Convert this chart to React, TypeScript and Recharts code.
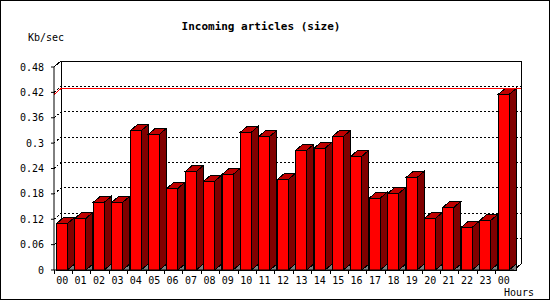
import { BarChart, Bar, XAxis, YAxis, CartesianGrid, ReferenceLine } from 'recharts';

const hours = ['00', '01', '02', '03', '04', '05', '06', '07', '08', '09', '10', '11', '12', '13', '14', '15', '16', '17', '18', '19', '20', '21', '22', '23', '00'];
const kbPerSec = [0.11, 0.122, 0.16, 0.16, 0.329, 0.321, 0.193, 0.233, 0.21, 0.226, 0.326, 0.316, 0.214, 0.283, 0.288, 0.316, 0.269, 0.17, 0.181, 0.219, 0.122, 0.148, 0.101, 0.117, 0.415];
const yTicks = [0, 0.06, 0.12, 0.18, 0.24, 0.3, 0.36, 0.42, 0.48];

const data = hours.map((hour, i) => ({ hour, size: kbPerSec[i] }));
const maxSize = Math.max(...kbPerSec);

const FONT = '"DejaVu Sans Mono", monospace';
// 3d depth offsets
const DX = 7;
const DY = 6;
const FRONT = 11;

function Bar3D(props: any) {
  const { x, y, width, height } = props;
  const fx = x + width / 2 - 6.5;
  const bottom = y + height;
  const rx = fx + FRONT;
  return (
    <g stroke="#000" strokeWidth={1} shapeRendering="crispEdges">
      <polygon
        points={`${rx},${bottom} ${rx + DX},${bottom - DY} ${rx + DX},${bottom}`}
        fill="#808080"
      />
      <polygon
        points={`${rx},${y} ${rx + DX},${y - DY} ${rx + DX},${bottom - DY} ${rx},${bottom}`}
        fill="#800000"
      />
      <polygon
        points={`${fx},${y} ${fx + DX},${y - DY} ${rx + DX},${y - DY} ${rx},${y}`}
        fill="#c00000"
      />
      <rect x={fx} y={y} width={FRONT} height={height} fill="#ff0000" />
    </g>
  );
}

function gridLine(p: any) {
  const { x1, y1, x2 } = p;
  const top = p.y ?? 67;
  const h = p.height ?? 203;
  const bottom = top + h;
  if (Math.abs(y1 - top) < 0.5) {
    return (
      <g fill="none" stroke="#000" shapeRendering="crispEdges">
        <path d={`M${x1},${y1} L${x1 + DX},${y1 - DY} L${x2 + DX},${y1 - DY} L${x2 + DX},${bottom - DY} L${x2},${bottom}`} />
        <line x1={x1 + DX} y1={y1 - DY} x2={x1 + DX} y2={bottom - DY} />
      </g>
    );
  }
  if (Math.abs(y1 - bottom) < 0.5) return <g />;
  return (
    <path
      d={`M${x1},${y1} L${x1 + DX},${y1 - DY} L${x2 + DX},${y1 - DY}`}
      fill="none"
      stroke="#000"
      strokeDasharray="2 2"
      shapeRendering="crispEdges"
    />
  );
}

function maxLine(p: any) {
  const { x1, y1, x2 } = p;
  return (
    <path
      d={`M${x1},${y1} L${x1 + DX},${y1 - DY} L${x2 + DX},${y1 - DY}`}
      fill="none"
      stroke="#ff0000"
      shapeRendering="crispEdges"
    />
  );
}

function HourTick(props: any) {
  const { x, y, payload, width, visibleTicksCount } = props;
  const half = payload?.offset || (width && visibleTicksCount ? width / visibleTicksCount / 2 : 9.2);
  const left = x - half;
  return (
    <g>
      <line x1={left} y1={y} x2={left} y2={y + 4} stroke="#000" shapeRendering="crispEdges" />
      <text x={x - 1} y={y + 14} textAnchor="middle" fontFamily={FONT} fontSize={10} fill="#000">
        {payload.value}
      </text>
    </g>
  );
}

export default function App() {
  return (
    <div style={{ position: 'absolute', left: 0, top: 0, width: 550, height: 300, background: '#fff' }}>
      <BarChart
        width={550}
        height={300}
        data={data}
        margin={{ top: 67, right: 36, bottom: 0, left: 0 }}
        barCategoryGap={0}
      >
        <CartesianGrid horizontal={gridLine} vertical={false} />
        <XAxis
          dataKey="hour"
          height={30}
          interval={0}
          tickLine={false}
          tickSize={0}
          tickMargin={0}
          axisLine={{ stroke: '#000' }}
          tick={<HourTick />}
        />
        <YAxis
          width={54}
          domain={[0, 0.48]}
          ticks={yTicks}
          tickSize={3}
          tickMargin={7}
          axisLine={{ stroke: '#000' }}
          tickLine={{ stroke: '#000' }}
          tick={{ fill: '#000', fontSize: 10, fontFamily: FONT }}
          tickFormatter={(v: number) => String(v)}
        />
        <Bar dataKey="size" shape={Bar3D} isAnimationActive={false} />
        <ReferenceLine y={maxSize} shape={maxLine} />
      </BarChart>
      <svg
        width={550}
        height={300}
        style={{ position: 'absolute', left: 0, top: 0, pointerEvents: 'none' }}
      >
        <rect x={0.5} y={0.5} width={549} height={299} fill="none" stroke="#000" />
        <text x={261} y={30} textAnchor="middle" fontFamily={FONT} fontWeight="bold" fontSize={11} fill="#000">
          Incoming articles (size)
        </text>
        <text x={28} y={41} fontFamily={FONT} fontSize={10} fill="#000">
          Kb/sec
        </text>
        <text x={504} y={296} fontFamily={FONT} fontSize={10} fill="#000">
          Hours
        </text>
      </svg>
    </div>
  );
}
